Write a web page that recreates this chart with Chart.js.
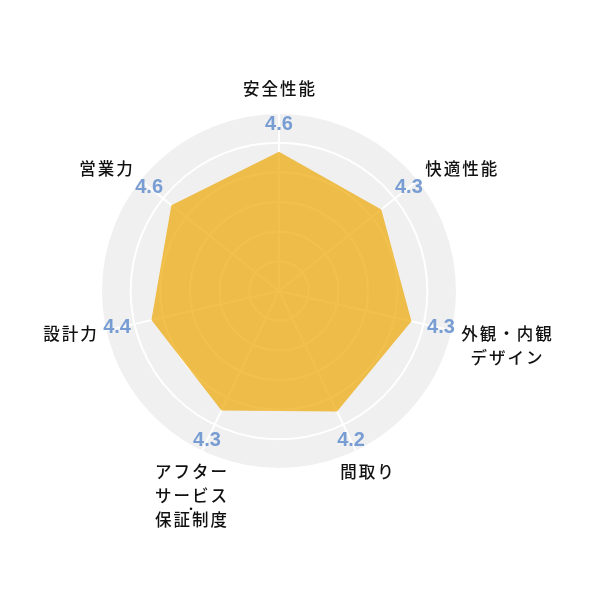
<!DOCTYPE html>
<html lang="ja">
<head>
<meta charset="utf-8">
<script src="https://cdn.jsdelivr.net/npm/chart.js@4"></script>
<style>
  html, body { margin: 0; padding: 0; background: #fff; }
  #wrap { width: 600px; height: 600px; }
</style>
</head>
<body>
<div id="wrap"><canvas id="radar"></canvas></div>
<script>
/* ───────── DATA ───────── */
const categories = [
  ["安全性能"],
  ["快適性能"],
  ["外観・内観", "デザイン"],
  ["間取り"],
  ["アフター", "サービス", "・", "保証制度"],
  ["設計力"],
  ["営業力"]
];
// scores printed next to each axis
const scores = [4.6, 4.3, 4.3, 4.2, 4.3, 4.4, 4.6];
// polygon values
const plotted = [4.69, 4.41, 4.58, 4.51, 4.47, 4.41, 4.64];
const scaleMax = 6;
const tickStep = 1;

/* ───────── TEXT PLUGIN ───────── */
const LABEL_FONT = '500 16.5px "Noto Sans CJK JP", "Noto Sans", sans-serif';
const DOT_FONT = '500 11px "Noto Sans CJK JP", sans-serif';
const SCORE_FONT = 'bold 20px "Liberation Sans", Arial, sans-serif';
const LINE_H = 24;

const radarText = {
  id: "radarText",
  afterDatasetsDraw(chart) {
    const scale = chart.scales.r;
    const ctx = chart.ctx;
    ctx.save();

    // scores
    ctx.font = SCORE_FONT;
    ctx.fillStyle = "#789dd3";
    ctx.textAlign = "center";
    ctx.textBaseline = "middle";
    scores.forEach((s, i) => {
      const p = scale.getPointPosition(i, scale.getDistanceFromCenterForValue(5.6));
      ctx.fillText(s.toFixed(1), p.x, p.y);
    });

    // category names
    ctx.font = LABEL_FONT;
    ctx.fillStyle = "#111111";
    ctx.letterSpacing = "2px";
    categories.forEach((lines, i) => {
      const a = scale.getIndexAngle(i);
      const sin = Math.sin(a), cos = Math.cos(a);
      const p = scale.getPointPosition(i, scale.drawingArea + 9);
      const w = Math.max(...lines.map(l => ctx.measureText(l).width)) - 2;
      let cx;
      if (Math.abs(sin) < 0.5) cx = p.x + sin * 16;
      else cx = sin > 0 ? p.x + w / 2 : p.x - w / 2;
      let y = p.y - Math.sign(cos) * cos * cos * 15;
      ctx.textAlign = "center";
      ctx.textBaseline = "middle";
      lines.forEach(l => {
        if (l === "・") {
          // small dot sits between the two lines around it
          ctx.font = DOT_FONT;
          ctx.letterSpacing = "0px";
          ctx.fillText(l, cx, y - LINE_H + 13);
          ctx.font = LABEL_FONT;
          ctx.letterSpacing = "2px";
          return;
        }
        ctx.fillText(l, cx + 1, y);
        y += LINE_H;
      });
    });
    ctx.restore();
  }
};

/* ───────── CHART ───────── */
const ctx = document.getElementById("radar").getContext("2d");
new Chart(ctx, {
  type: "radar",
  data: {
    labels: categories,
    datasets: [{
      data: plotted,
      backgroundColor: "rgba(238,170,14,0.74)",
      borderWidth: 0,
      pointRadius: 0,
      pointHoverRadius: 0
    }]
  },
  options: {
    responsive: true,
    maintainAspectRatio: false,
    animation: false,
    layout: { padding: { left: 101, top: 113, right: 142, bottom: 130 } },
    plugins: { legend: { display: false }, tooltip: { enabled: false } },
    scales: {
      r: {
        min: 0,
        max: scaleMax,
        backgroundColor: "#f0f0f0",
        ticks: { display: false, stepSize: tickStep },
        grid: { circular: true, color: "#ffffff", lineWidth: 2 },
        angleLines: { color: "#ffffff", lineWidth: 2 },
        pointLabels: { display: false }
      }
    }
  },
  plugins: [radarText]
});
</script>
</body>
</html>
